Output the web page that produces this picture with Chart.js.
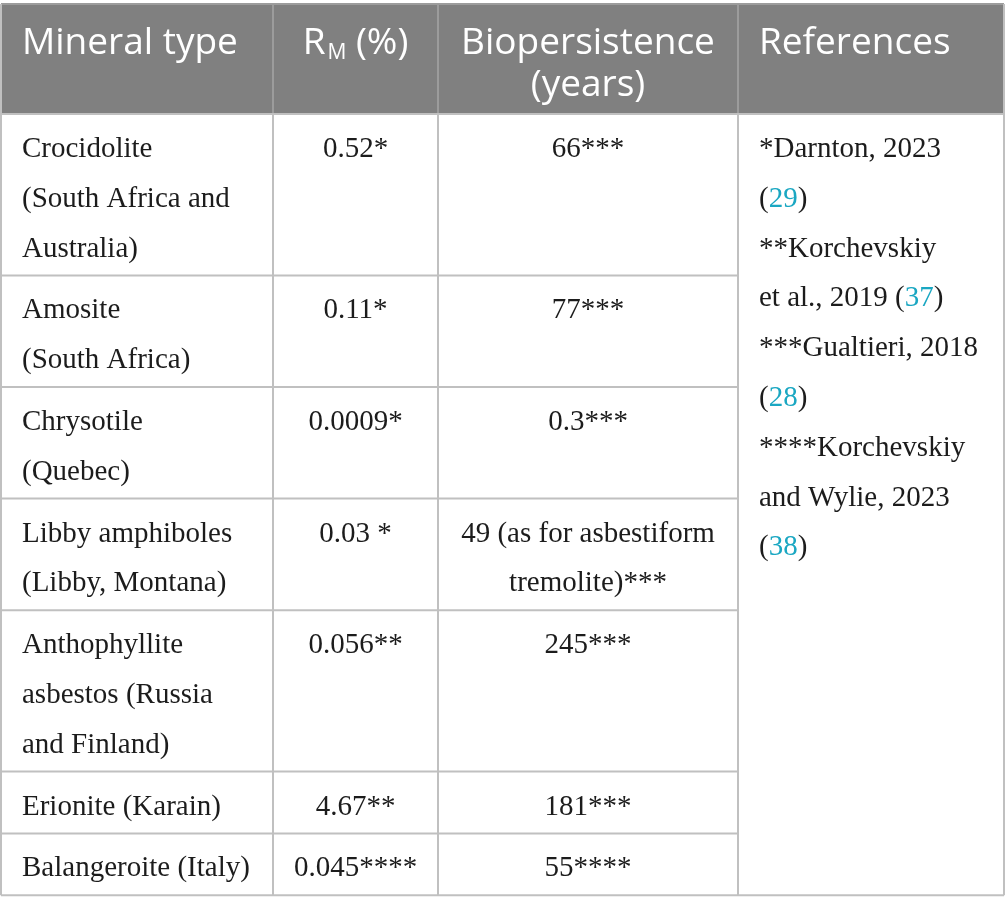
<!DOCTYPE html>
<html lang="en">
<head>
  <meta charset="UTF-8" />
  <title>Mineral biopersistence table</title>
  <script src="https://cdn.jsdelivr.net/npm/chart.js"></script>
  <style>
    body {
      margin: 0;
      background: #fff;
      overflow: hidden;
    }
    #tbl {
      display: block;
      width: 1005px;
      height: 914px;
    }
  </style>
</head>
<body>
  <canvas id="tbl" width="1005" height="914"></canvas>

  <script>
    // table content
    const headerLabels = ['Mineral type', 'R_M (%)', 'Biopersistence\n(years)', 'References'];
    const mineralTypes = [
      ['Crocidolite', '(South Africa and', 'Australia)'],
      ['Amosite', '(South Africa)'],
      ['Chrysotile', '(Quebec)'],
      ['Libby amphiboles', '(Libby, Montana)'],
      ['Anthophyllite', 'asbestos (Russia', 'and Finland)'],
      ['Erionite (Karain)'],
      ['Balangeroite (Italy)']
    ];
    const rmValues = ['0.52*', '0.11*', '0.0009*', '0.03 *', '0.056**', '4.67**', '0.045****'];
    const biopersistence = [
      ['66***'],
      ['77***'],
      ['0.3***'],
      ['49 (as for asbestiform', 'tremolite)***'],
      ['245***'],
      ['181***'],
      ['55****']
    ];
    const references = [
      '*Darnton, 2023', '(29)',
      '**Korchevskiy', 'et al., 2019 (37)',
      '***Gualtieri, 2018', '(28)',
      '****Korchevskiy', 'and Wylie, 2023', '(38)'
    ];

    // layout (scale units = px of the 1005x914 page)
    const colEdges = [1, 273, 438, 738, 1004];
    const tableTop = 4;
    const headerBottom = 114;
    const lineH = 49.8;
    const rowPad = 12;

    const C = {
      headBg: '#808080',
      headLine: '#9c9c9c',
      grid: '#c0c0c0',
      text: '#1c1c1c',
      link: '#1aa7c2',
      headText: '#ffffff'
    };
    const serif = '29px "Liberation Serif", "DejaVu Serif", serif';
    const sans = '37px "Open Sans", "Noto Sans", sans-serif';
    const sansSub = '21px "Open Sans", "Noto Sans", sans-serif';

    function segmentsFor(str, header) {
      const segs = [];
      if (header) {
        str.split(/_(\w)/).forEach((p, i) => {
          if (!p) return;
          if (i % 2) segs.push({ t: p, font: sansSub, color: C.headText, dy: 5, pre: 2 });
          else segs.push({ t: p, font: sans, color: C.headText, dy: 0, pre: 0 });
        });
      } else {
        str.split(/\((\d+)\)/).forEach((p, i) => {
          if (i % 2) {
            segs.push({ t: '(', font: serif, color: C.text, dy: 0, pre: 0 });
            segs.push({ t: p, font: serif, color: C.link, dy: 0, pre: 0 });
            segs.push({ t: ')', font: serif, color: C.text, dy: 0, pre: 0 });
          } else if (p) {
            segs.push({ t: p, font: serif, color: C.text, dy: 0, pre: 0 });
          }
        });
      }
      return segs;
    }

    function drawText(ctx, str, x, y, align, header) {
      const segs = segmentsFor(str, header);
      let w = 0;
      segs.forEach(s => { ctx.font = s.font; s.w = ctx.measureText(s.t).width + s.pre; w += s.w; });
      let cx = align === 'center' ? x - w / 2 : x;
      ctx.textAlign = 'left';
      ctx.textBaseline = 'alphabetic';
      segs.forEach(s => {
        ctx.font = s.font;
        ctx.fillStyle = s.color;
        ctx.fillText(s.t, cx + s.pre, y + s.dy);
        cx += s.w;
      });
    }

    function hLine(ctx, x0, x1, y, color) {
      ctx.strokeStyle = color;
      ctx.lineWidth = 2;
      ctx.beginPath();
      ctx.moveTo(x0, y);
      ctx.lineTo(x1, y);
      ctx.stroke();
    }

    function vLine(ctx, x, y0, y1, color) {
      ctx.strokeStyle = color;
      ctx.lineWidth = 2;
      ctx.beginPath();
      ctx.moveTo(x, y0);
      ctx.lineTo(x, y1);
      ctx.stroke();
    }

    const tablePlugin = {
      id: 'tablePlugin',
      afterDraw(chart) {
        const ctx = chart.ctx;
        const xs = chart.scales.x;
        const ys = chart.scales.y;
        const X = v => xs.getPixelForValue(v);
        const Y = v => ys.getPixelForValue(v);

        // row boundaries from the number of lines in each row
        const rowEdges = [headerBottom];
        mineralTypes.forEach((m, i) => {
          const n = Math.max(m.length, biopersistence[i].length, 1);
          rowEdges.push(rowEdges[i] + n * lineH + rowPad);
        });
        const tableBottom = rowEdges[rowEdges.length - 1];

        ctx.save();
        ctx.fillStyle = '#fff';
        ctx.fillRect(0, 0, chart.width, chart.height);

        // header
        ctx.fillStyle = C.headBg;
        ctx.fillRect(X(colEdges[0]), Y(tableTop), X(colEdges[4]) - X(colEdges[0]), Y(headerBottom) - Y(tableTop));

        // grid
        hLine(ctx, X(colEdges[0]), X(colEdges[4]), Y(tableTop), C.headLine);
        for (let c = 1; c < 4; c++) vLine(ctx, X(colEdges[c]), Y(tableTop), Y(headerBottom), C.headLine);
        vLine(ctx, X(colEdges[0]), Y(tableTop), Y(tableBottom), C.grid);
        vLine(ctx, X(colEdges[4]), Y(tableTop), Y(tableBottom), C.grid);
        for (let c = 1; c < 4; c++) vLine(ctx, X(colEdges[c]), Y(headerBottom), Y(tableBottom), C.grid);
        hLine(ctx, X(colEdges[0]), X(colEdges[4]), Y(headerBottom), C.grid);
        for (let r = 1; r < rowEdges.length - 1; r++) hLine(ctx, X(colEdges[0]), X(colEdges[3]), Y(rowEdges[r]), C.grid);
        hLine(ctx, X(colEdges[0]), X(colEdges[4]), Y(tableBottom), C.grid);

        // header text
        headerLabels.forEach((h, c) => {
          const centered = c === 1 || c === 2;
          const x = centered ? (X(colEdges[c]) + X(colEdges[c + 1])) / 2 : X(colEdges[c]) + 21;
          h.split('\n').forEach((line, k) => {
            drawText(ctx, line, x, Y(tableTop + 50 + k * 41.5), centered ? 'center' : 'left', true);
          });
        });

        // body text
        mineralTypes.forEach((m, r) => {
          const top = rowEdges[r];
          m.forEach((line, k) => drawText(ctx, line, X(colEdges[0]) + 21, Y(top + 43 + k * lineH), 'left'));
          const c2 = (X(colEdges[1]) + X(colEdges[2])) / 2;
          drawText(ctx, rmValues[r], c2, Y(top + 43), 'center');
          const c3 = (X(colEdges[2]) + X(colEdges[3])) / 2;
          biopersistence[r].forEach((line, k) => drawText(ctx, line, c3, Y(top + 43 + k * lineH), 'center'));
        });

        // references column spans all body rows
        references.forEach((line, k) => {
          drawText(ctx, line, X(colEdges[3]) + 21, Y(headerBottom + 43 + k * lineH), 'left');
        });
        ctx.restore();
      }
    };

    function drawTable() {
      const ctx = document.getElementById('tbl').getContext('2d');
      new Chart(ctx, {
        type: 'scatter',
        data: { datasets: [] },
        options: {
          responsive: false,
          animation: false,
          events: [],
          layout: { padding: 0 },
          plugins: { legend: { display: false }, tooltip: { enabled: false } },
          scales: {
            x: { type: 'linear', min: 0, max: 1005, display: false },
            y: { type: 'linear', min: 0, max: 914, reverse: true, display: false }
          }
        },
        plugins: [tablePlugin]
      });
    }

    document.addEventListener('DOMContentLoaded', () => {
      if (document.fonts && document.fonts.ready) document.fonts.ready.then(drawTable);
      else drawTable();
    });
  </script>
</body>
</html>
